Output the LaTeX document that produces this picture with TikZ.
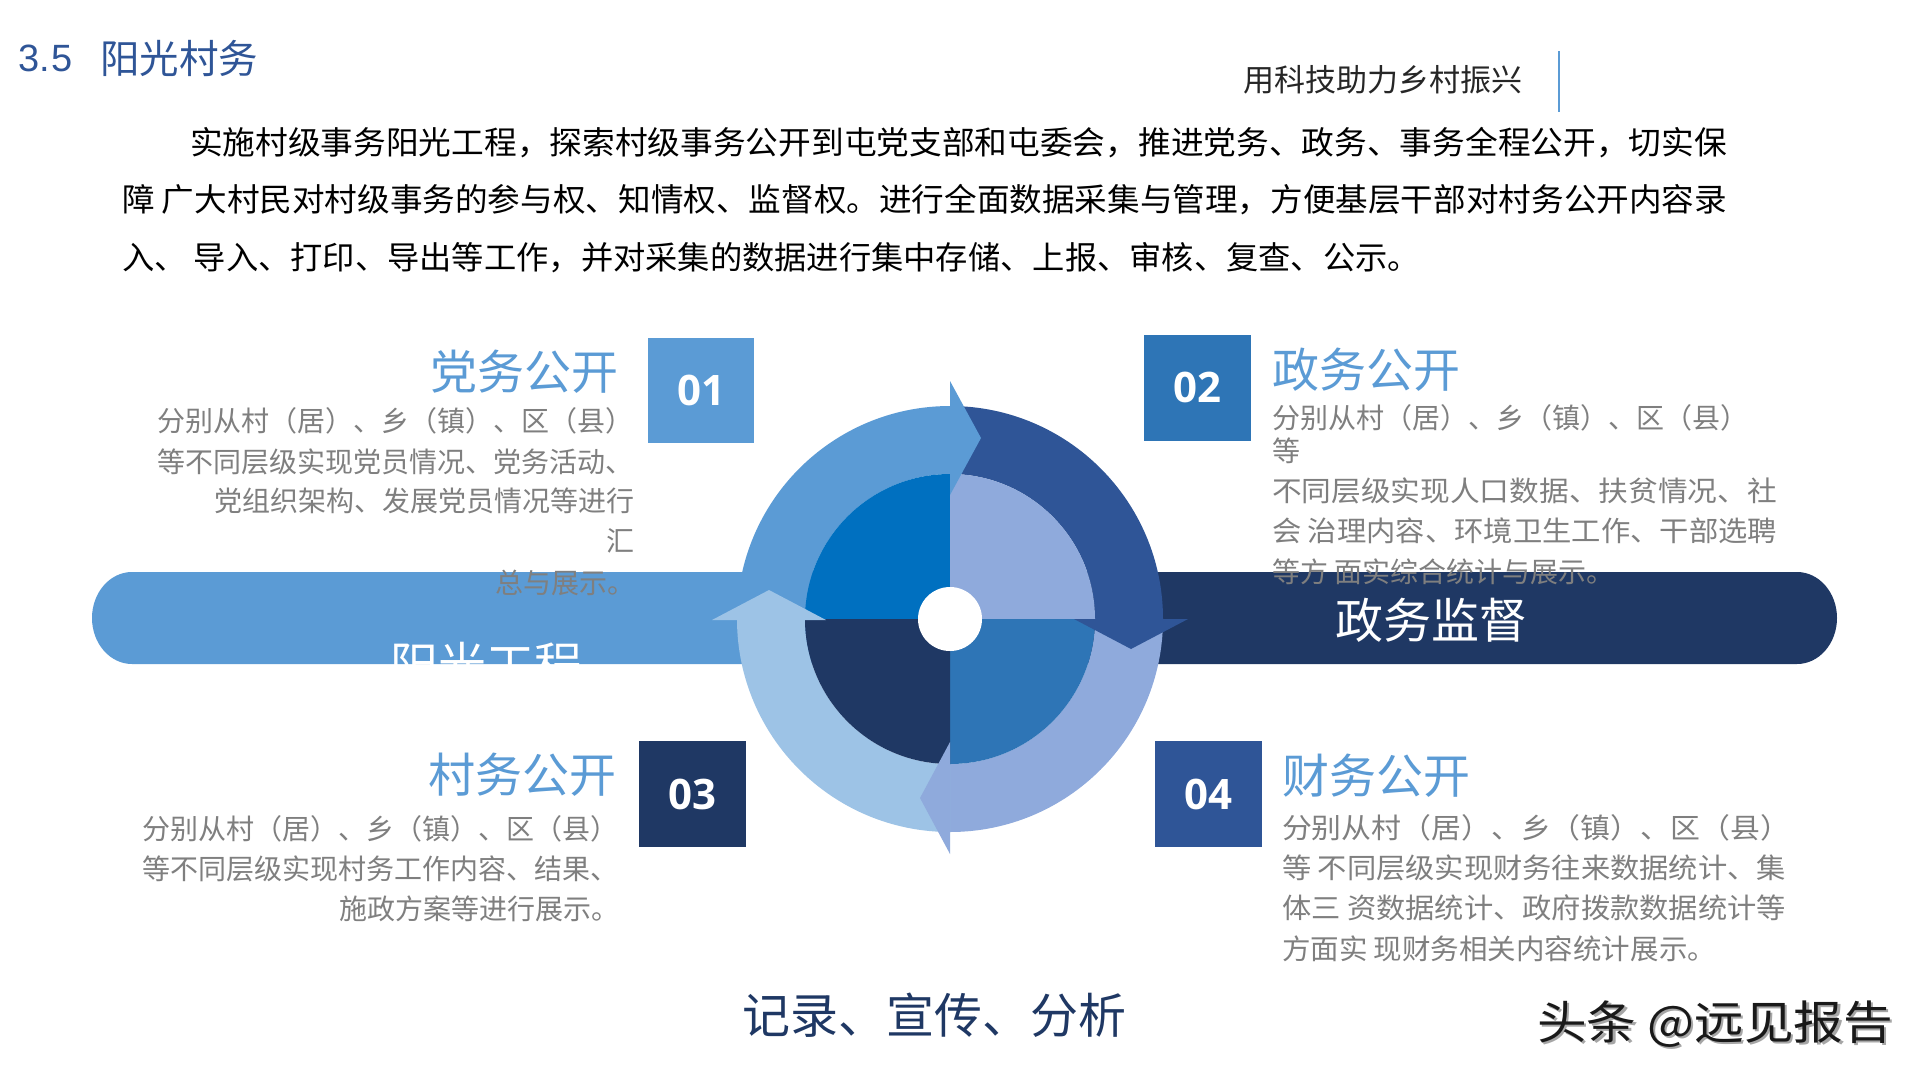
\documentclass[tikz,border=0pt]{standalone}
\usepackage{fontspec}
\usepackage{graphicx}
\newfontfamily\cjk{Noto Sans CJK SC}
\newfontfamily\numf{Open Sans}
\newfontfamily\latf{Liberation Sans}
\definecolor{cA}{HTML}{5B9BD5}
\definecolor{cB}{HTML}{2F5597}
\definecolor{cC}{HTML}{8FAADC}
\definecolor{cD}{HTML}{9DC3E6}
\definecolor{pA}{HTML}{0070C0}
\definecolor{pB}{HTML}{8FAADC}
\definecolor{pC}{HTML}{2E75B6}
\definecolor{pD}{HTML}{1F3864}
\definecolor{navy}{HTML}{1F3864}
\definecolor{midblue}{HTML}{2E75B6}
\definecolor{bodygray}{HTML}{7F7F7F}
\definecolor{titleblue}{HTML}{2F5597}
\newcommand{\setfs}[1]{\fontsize{#1}{#1}\selectfont}
\newcommand{\wfit}[2]{\resizebox{#1}{\height}{#2}}
\begin{document}
\begin{tikzpicture}[x=1pt,y=-1pt,
  txt/.style={inner sep=0pt, outer sep=0pt},
  para/.style={txt, font=\cjk\setfs{32}, text=black, anchor=west},
  body/.style={txt, font=\cjk\setfs{28}, text=bodygray, anchor=west},
  headline/.style={txt, font=\cjk\setfs{47}, text=cA, anchor=west},
  numbox/.style={inner sep=0pt, minimum width=107pt, minimum height=106pt, font=\numf\bfseries\setfs{42}, text=white},
  bartext/.style={txt, font=\cjk\setfs{48}, text=white}]
\fill[white] (0,0) rectangle (1920,1080);
\useasboundingbox (0,0) rectangle (1920,1080);

% header
\node[txt, anchor=west, font=\latf\setfs{38}, text=titleblue] (secnum) at (18,58) {3.\kern2pt5};
\node[txt, anchor=west, font=\cjk\setfs{39.5}, text=titleblue] (sectitle) at (100,58) {阳光村务};
\node[txt, anchor=west, font=\cjk\setfs{31}, text=black!85] (slogan) at (1243,80) {用科技助力乡村振兴};
\coordinate (vtop) at (1559,51);
\coordinate (vbot) at (1559,112);
\draw[cA, line width=1.5pt] (vtop) -- (vbot);

% paragraph
\node[para] (p1) at (190,143) {\wfit{1537pt}{实施村级事务阳光工程，探索村级事务公开到屯党支部和屯委会，推进党务、政务、事务全程公开，切实保}};
\node[para] (p2) at (122,200) {\wfit{1605pt}{障 广大村民对村级事务的参与权、知情权、监督权。进行全面数据采集与管理，方便基层干部对村务公开内容录}};
\node[para] (p3) at (122,258) {\wfit{1298pt}{入、 导入、打印、导出等工作，并对采集的数据进行集中存储、上报、审核、复查、公示。}};

% bars
\fill[cA] (950,572) -- (132,572) arc[start angle=90, end angle=270, x radius=40pt, y radius=46pt] -- (950,664) -- cycle;
\begin{scope}
  \clip (950,572) -- (132,572) arc[start angle=90, end angle=270, x radius=40pt, y radius=46pt] -- (950,664) -- cycle;
  \node[bartext] (yg) at (486,664) {阳光工程};
\end{scope}
\fill[navy] (950,572) -- (1797,572) arc[start angle=90, end angle=-90, x radius=40pt, y radius=46pt] -- (950,664) -- cycle;
\node[bartext] (zj) at (1431,620) {政务监督};

% cycle diagram
\begin{scope}[shift={(950,619)}]
  \fill[cA] (180:213pt) arc[start angle=180, end angle=90, radius=213pt] -- (90:145pt) arc[start angle=90, end angle=180, radius=145pt] -- cycle;
  \fill[cB] (90:213pt) arc[start angle=90, end angle=0, radius=213pt] -- (0:145pt) arc[start angle=0, end angle=90, radius=145pt] -- cycle;
  \fill[cC] (0:213pt) arc[start angle=0, end angle=-90, radius=213pt] -- (-90:145pt) arc[start angle=-90, end angle=0, radius=145pt] -- cycle;
  \fill[cD] (-90:213pt) arc[start angle=-90, end angle=-180, radius=213pt] -- (-180:145pt) arc[start angle=-180, end angle=-90, radius=145pt] -- cycle;
  \fill[pA] (0pt,0pt) -- (180:145pt) arc[start angle=180, end angle=90, radius=145pt] -- cycle;
  \fill[pB] (0pt,0pt) -- (90:145pt) arc[start angle=90, end angle=0, radius=145pt] -- cycle;
  \fill[pC] (0pt,0pt) -- (0:145pt) arc[start angle=0, end angle=-90, radius=145pt] -- cycle;
  \fill[pD] (0pt,0pt) -- (-90:145pt) arc[start angle=-90, end angle=-180, radius=145pt] -- cycle;
  \fill[cA] (0pt,124pt) -- (0pt,238pt) -- (31pt,181pt) -- cycle;
  \fill[cB] (124pt,0pt) -- (238pt,0pt) -- (181pt,-30pt) -- cycle;
  \fill[cC] (0pt,-123pt) -- (0pt,-235pt) -- (-30pt,-179pt) -- cycle;
  \fill[cD] (-124pt,-1pt) -- (-238pt,-1pt) -- (-181pt,29pt) -- cycle;
  \fill[white] (0pt,0pt) circle[radius=32pt];
\end{scope}

% number boxes
\node[numbox, fill=cA, minimum width=106pt, minimum height=105pt] (b1) at (701,390.5) {01};
\node[numbox, fill=midblue] (b2) at (1197.5,387.5) {02};
\node[numbox, fill=navy] (b3) at (692.5,794) {03};
\node[numbox, fill=cB] (b4) at (1208.5,794) {04};

% headlines
\node[headline] (h1) at (430,372) {党务公开};
\node[headline] (h2) at (1272,370) {政务公开};
\node[headline] (h3) at (428,775) {村务公开};
\node[headline] (h4) at (1282,776) {财务公开};

% block 1
\node[body] (t1a) at (157,421) {分别从村（居）、乡（镇）、区（县）};
\node[body] (t1b) at (157,462) {等不同层级实现党员情况、党务活动、};
\node[body] (t1c) at (214,501) {党组织架构、发展党员情况等进行};
\node[body, anchor=east] (t1d) at (634,541) {汇};
\node[body] (t1e) at (495,583) {总与展示。};

% block 2
\node[body] (t2a) at (1272,418) {分别从村（居）、乡（镇）、区（县）};
\node[body] (t2b) at (1272,451) {等};
\node[body] (t2c) at (1272,491) {\wfit{505pt}{不同层级实现人口数据、扶贫情况、社}};
\node[body] (t2d) at (1272,531) {\wfit{505pt}{会 治理内容、环境卫生工作、干部选聘}};
\node[body] (t2e) at (1272,572) {等方 面实综合统计与展示。};

% block 3
\node[body] (t3a) at (142,829) {分别从村（居）、乡（镇）、区（县）};
\node[body] (t3b) at (142,869) {等不同层级实现村务工作内容、结果、};
\node[body] (t3c) at (339,909) {施政方案等进行展示。};

% block 4
\node[body] (t4a) at (1282,828) {\wfit{508pt}{分别从村（居）、乡（镇）、区（县）}};
\node[body] (t4b) at (1282,868) {\wfit{504pt}{等 不同层级实现财务往来数据统计、集}};
\node[body] (t4c) at (1282,908) {\wfit{504pt}{体三 资数据统计、政府拨款数据统计等}};
\node[body] (t4d) at (1282,949) {\wfit{434pt}{方面实 现财务相关内容统计展示。}};

% bottom
\node[txt, font=\cjk\setfs{48}, text=navy] (bottom) at (934,1015) {记录、宣传、分析};
\node[txt, anchor=west, font=\cjk\setfs{46}, text=black!35] (wmshadow) at (1539.5,1026) {\wfit{356pt}{头条 @远见报告}};
\node[txt, anchor=west, font=\cjk\setfs{46}, text=black!90] (wm) at (1537,1024) {\wfit{356pt}{头条 @远见报告}};
\end{tikzpicture}
\end{document}
